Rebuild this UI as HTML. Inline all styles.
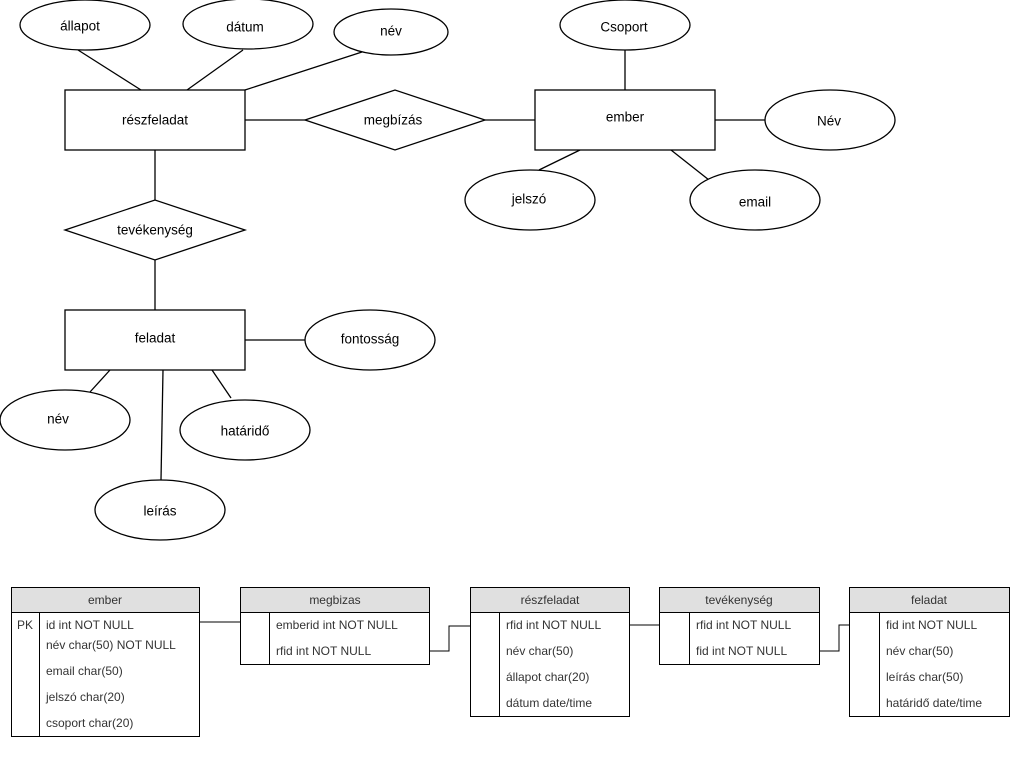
<!DOCTYPE html>
<html><head><meta charset="utf-8"><style>
html,body{margin:0;padding:0;background:#fff;}
svg{display:block;}
.a{font-family:"Liberation Sans",sans-serif;font-size:13.5px;fill:#000;text-anchor:middle;dominant-baseline:central;}
.t{font-family:"Liberation Sans",sans-serif;font-size:12px;fill:#333;}
.h{font-family:"Liberation Sans",sans-serif;font-size:12px;fill:#333;text-anchor:middle;dominant-baseline:central;}
</style></head><body>
<svg width="1021" height="781" viewBox="0 0 1021 781" xmlns="http://www.w3.org/2000/svg">
<g fill="#fff" stroke="#000" stroke-width="1.3">
<!-- lines -->
<line x1="78" y1="50" x2="141" y2="90"/>
<line x1="243" y1="50" x2="187" y2="90"/>
<line x1="362" y1="52" x2="245" y2="90"/>
<line x1="245" y1="120" x2="305" y2="120"/>
<line x1="485" y1="120" x2="535" y2="120"/>
<line x1="625" y1="50" x2="625" y2="90"/>
<line x1="715" y1="120" x2="765" y2="120"/>
<line x1="580" y1="150" x2="539" y2="170"/>
<line x1="671" y1="150" x2="709" y2="180"/>
<line x1="155" y1="150" x2="155" y2="200"/>
<line x1="155" y1="260" x2="155" y2="310"/>
<line x1="245" y1="340" x2="305" y2="340"/>
<line x1="110" y1="370" x2="90" y2="392"/>
<line x1="163" y1="370" x2="161" y2="480"/>
<line x1="212" y1="370" x2="231" y2="398"/>
<!-- shapes -->
<ellipse cx="85" cy="25" rx="65" ry="25"/>
<ellipse cx="248" cy="24" rx="65" ry="25"/>
<ellipse cx="391" cy="32" rx="57" ry="23"/>
<ellipse cx="625" cy="25" rx="65" ry="25"/>
<ellipse cx="830" cy="120" rx="65" ry="30"/>
<ellipse cx="530" cy="200" rx="65" ry="30"/>
<ellipse cx="755" cy="200" rx="65" ry="30"/>
<ellipse cx="370" cy="340" rx="65" ry="30"/>
<ellipse cx="65" cy="420" rx="65" ry="30"/>
<ellipse cx="160" cy="510" rx="65" ry="30"/>
<ellipse cx="245" cy="430" rx="65" ry="30"/>
<rect x="65" y="90" width="180" height="60"/>
<rect x="535" y="90" width="180" height="60"/>
<rect x="65" y="310" width="180" height="60"/>
<polygon points="305,120 395,90 485,120 395,150"/>
<polygon points="65,230 155,200 245,230 155,260"/>
</g>
<g class="a">
<text x="80" y="26">állapot</text>
<text x="245" y="27">dátum</text>
<text x="391" y="31">név</text>
<text x="155" y="120">részfeladat</text>
<text x="393" y="120">megbízás</text>
<text x="624" y="27">Csoport</text>
<text x="625" y="117">ember</text>
<text x="829" y="121">Név</text>
<text x="529" y="199">jelszó</text>
<text x="755" y="202">email</text>
<text x="155" y="230">tevékenység</text>
<text x="155" y="338">feladat</text>
<text x="370" y="339">fontosság</text>
<text x="58" y="419">név</text>
<text x="245" y="431">határidő</text>
<text x="160" y="511">leírás</text>
</g>
<!-- tables -->
<g stroke="#000" stroke-width="1" fill="none">
<line x1="200" y1="622" x2="240" y2="622"/>
<polyline points="430,651 449,651 449,626 470,626"/>
<line x1="629" y1="625" x2="659" y2="625"/>
<polyline points="819,651 839,651 839,625 849,625"/>
</g>
<g stroke="#000" stroke-width="1">
<rect x="11.5" y="587.5" width="188" height="25" fill="#e0e0e0"/>
<polyline points="11.5,612.5 11.5,736.5 199.5,736.5 199.5,612.5" fill="none"/>
<line x1="39.5" y1="612" x2="39.5" y2="736"/>
<rect x="240.5" y="587.5" width="189" height="25" fill="#e0e0e0"/>
<polyline points="240.5,612.5 240.5,664.5 429.5,664.5 429.5,612.5" fill="none"/>
<line x1="269.5" y1="612" x2="269.5" y2="664"/>
<rect x="470.5" y="587.5" width="159" height="25" fill="#e0e0e0"/>
<polyline points="470.5,612.5 470.5,716.5 629.5,716.5 629.5,612.5" fill="none"/>
<line x1="499.5" y1="612" x2="499.5" y2="716"/>
<rect x="659.5" y="587.5" width="160" height="25" fill="#e0e0e0"/>
<polyline points="659.5,612.5 659.5,664.5 819.5,664.5 819.5,612.5" fill="none"/>
<line x1="689.5" y1="612" x2="689.5" y2="664"/>
<rect x="849.5" y="587.5" width="160" height="25" fill="#e0e0e0"/>
<polyline points="849.5,612.5 849.5,716.5 1009.5,716.5 1009.5,612.5" fill="none"/>
<line x1="879.5" y1="612" x2="879.5" y2="716"/>
</g>
<g class="h">
<text x="105" y="600">ember</text>
<text x="335" y="600">megbizas</text>
<text x="550" y="600">részfeladat</text>
<text x="739" y="600">tevékenység</text>
<text x="929" y="600">feladat</text>
</g>
<g class="t">
<text x="17" y="629">PK</text>
<text x="46" y="629">id int NOT NULL</text>
<text x="46" y="649">név char(50) NOT NULL</text>
<text x="46" y="675">email char(50)</text>
<text x="46" y="701">jelszó char(20)</text>
<text x="46" y="727">csoport char(20)</text>
<text x="276" y="629">emberid int NOT NULL</text>
<text x="276" y="655">rfid int NOT NULL</text>
<text x="506" y="629">rfid int NOT NULL</text>
<text x="506" y="655">név char(50)</text>
<text x="506" y="681">állapot char(20)</text>
<text x="506" y="707">dátum date/time</text>
<text x="696" y="629">rfid int NOT NULL</text>
<text x="696" y="655">fid int NOT NULL</text>
<text x="886" y="629">fid int NOT NULL</text>
<text x="886" y="655">név char(50)</text>
<text x="886" y="681">leírás char(50)</text>
<text x="886" y="707">határidő date/time</text>
</g>
</svg>
</body></html>
